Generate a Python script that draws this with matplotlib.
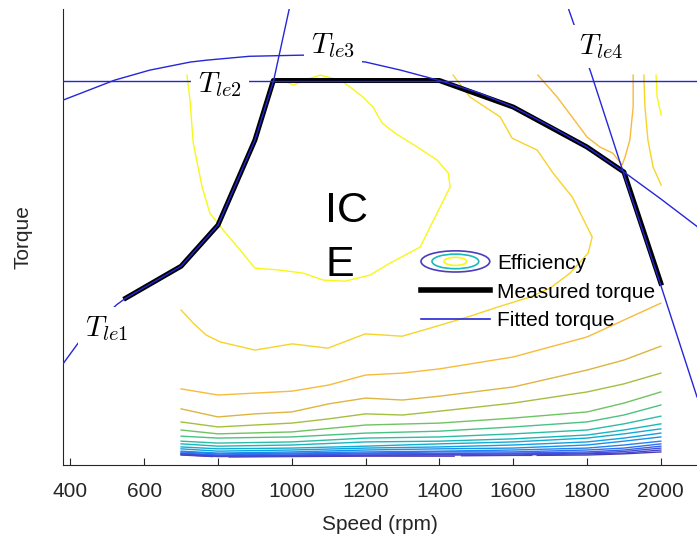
import numpy as np
import matplotlib
matplotlib.use("Agg")
import matplotlib.pyplot as plt
from matplotlib.colors import LinearSegmentedColormap, Normalize
from matplotlib.legend_handler import HandlerBase
from matplotlib.patches import Ellipse, Patch
from matplotlib.lines import Line2D

plt.rcParams['font.family'] = ['Liberation Sans', 'DejaVu Sans']
plt.rcParams['mathtext.fontset'] = 'cm'

# measured full-load torque curve (rpm, Nm)
meas_rpm = [550, 700, 800, 900, 950, 1400, 1600, 1800, 1900, 2000]
meas_T = [434, 517, 624, 845, 1000, 1000, 931, 827, 762, 473]

# fitted torque segments
fit1_rpm = [380, 421, 470, 527, 550, 700, 800]
fit1_T = [263, 317, 369, 418, 434, 517, 624]
fit2_rpm = [800, 900, 951, 993, 1000]
fit2_T = [624, 845, 1001, 1186, 1220]
fitmax_rpm = [380, 2100]
fitmax_T = [1000, 1000]
fit3_rpm = [380, 520, 615, 725, 770, 885, 1030, 1200, 1295, 1400, 1510, 1600, 1700, 1800, 1900, 2000, 2100]
fit3_T = [949, 1001, 1027, 1048, 1053, 1063, 1066, 1048, 1027, 1000, 967, 931, 881, 827, 762, 692, 619]
fit4_rpm = [1742, 1751, 1811, 1898, 1998, 2098]
fit4_T = [1212, 1183, 1019, 762, 473, 177]

# labels of the fitted segments (rpm, Nm)
lbl_text = [r'$T_{le1}$', r'$T_{le2}$', r'$T_{le3}$', r'$T_{le4}$']
lbl_rpm = [498, 806, 1111, 1837]
lbl_T = [354, 989, 1091, 1089]

# efficiency contour lines
nan = np.nan
eff_inner = 0.44
inner_rpm = [716, 724, 733, 757, 778, 814, 860, 900, 968, 1031, 1085, 1144, 1212, 1266, 1348, 1380,
             1402, 1429, 1424, 1394, 1340, 1280, 1245, 1220, 1193, 1158, 1131, 1077, 1050, 1004, 976]
inner_T = [1014, 949, 837, 723, 655, 611, 559, 512, 507, 499, 481, 478, 494, 525, 567, 629,
           671, 723, 759, 793, 827, 863, 889, 931, 957, 983, 1001, 1014, 1006, 988, 1001]

eff_a = 0.42
a_rpm = [700, 733, 768, 806, 900, 1001, 1098, 1199, 1299, 1375, 1483, 1565, 1646, 1700, 1754, 1803,
         1814, 1760, 1708, 1665, 1597, 1565, 1483, 1437]
a_T = [403, 369, 338, 320, 299, 315, 304, 341, 335, 356, 387, 413, 437, 460, 499, 551,
       593, 697, 759, 819, 850, 905, 957, 1014]

eff_v = 0.40
v_rpm = [1667, 1719, 1762, 1800, 1835, 1870, 1895, 1903, 1916, 1925, 1925]
v_T = [1014, 957, 902, 853, 827, 811, 780, 801, 845, 931, 1014]
eff_o3 = 0.42
o3_rpm = [1954, 1957, 1965, 1979, 2001]
o3_T = [1014, 931, 845, 775, 728]
eff_o4 = 0.44
o4_rpm = [1987, 1990, 2001]
o4_T = [1014, 957, 910]

rpm_12 = [700, 800, 900, 1000, 1100, 1200, 1300, 1400, 1600, 1800, 1900, 2000]
b_T = [198, 182, 187, 192, 208, 234, 239, 250, 281, 333, 377, 421]
c_T = [146, 125, 133, 138, 159, 174, 169, 179, 203, 247, 273, 309]
d_T = [112, 99, 104, 109, 120, 133, 130, 140, 161, 190, 211, 239]

rpm_9 = [700, 800, 1000, 1200, 1400, 1600, 1800, 1900, 2000]
e_T = [91, 81, 86, 104, 109, 122, 138, 161, 190]
f_T = [75, 70, 73, 83, 88, 99, 112, 130, 156]
g_T = [62, 57, 60, 70, 73, 81, 91, 107, 127]
h_T = [55, 49, 52, 60, 62, 68, 78, 91, 107]
i_T = [47, 42, 44, 49, 55, 60, 70, 81, 94]
j_T = [42, 36, 39, 44, 47, 52, 60, 70, 83]
k_T = [36, 31, 34, 39, 42, 44, 52, 62, 73]
l_T = [34, 29, 31, 34, 36, 39, 44, 52, 62]
m_T = [31, 26, 29, 31, 34, 34, 39, 44, 55]
n_T = [30, 25, 26, 29, 30, 31, 34, 39, 49]
o_T = [29, 23, 25, 26, 27, 29, 31, 35, 44]
p_T = [27, 22, 23, 25, 26, 26, 29, 31, 39]
q_rpm = [700, 785, nan, 830, 1000, 1200, 1400, 1440, nan, 1460, 1600, 1650, nan, 1665, 1800, 1900, 2000]
q_T = [26, 22, nan, 21, 22, 23, 23, 23, nan, 24, 25, 25, nan, 25, 26, 29, 34]

low_eff = [0.36, 0.38, 0.40]  # d, c, b
band_eff = [0.34, 0.32, 0.30, 0.28, 0.26, 0.24, 0.22, 0.20, 0.18, 0.16, 0.14, 0.12]  # e..p
eff_q = 0.10

contours = [(inner_rpm, inner_T, eff_inner), (a_rpm, a_T, eff_a), (v_rpm, v_T, eff_v),
            (o3_rpm, o3_T, eff_o3), (o4_rpm, o4_T, eff_o4), (q_rpm, q_T, eff_q)]
for T, e in zip([d_T, c_T, b_T], low_eff):
    contours.append((rpm_12, T, e))
for T, e in zip([e_T, f_T, g_T, h_T, i_T, j_T, k_T, l_T, m_T, n_T, o_T, p_T], band_eff):
    contours.append((rpm_9, T, e))

cmap = LinearSegmentedColormap.from_list('parula_like', [
    (0.00, (0.30, 0.22, 0.72)),
    (0.20, (0.22, 0.40, 0.95)),
    (0.40, (0.05, 0.62, 0.90)),
    (0.55, (0.10, 0.73, 0.72)),
    (0.68, (0.35, 0.77, 0.45)),
    (0.76, (0.62, 0.75, 0.25)),
    (0.84, (0.93, 0.70, 0.25)),
    (0.90, (0.99, 0.74, 0.22)),
    (0.95, (0.96, 0.85, 0.15)),
    (1.00, (0.97, 0.97, 0.10))])
norm = Normalize(0.10, 0.44)

fit_color = '#2626d9'
dark = '#262626'

fig = plt.figure(figsize=(6.97, 5.41), dpi=100)
ax = fig.add_axes([63 / 697, 76 / 541, 634 / 697, 456 / 541])

for rpm, T, e in contours:
    ax.plot(rpm, T, color=cmap(norm(e)), lw=1, zorder=1)

ax.plot(meas_rpm, meas_T, color='black', lw=3.6, solid_joinstyle='round', zorder=2)
for rpm, T in [(fit1_rpm, fit1_T), (fit2_rpm, fit2_T), (fitmax_rpm, fitmax_T),
               (fit3_rpm, fit3_T), (fit4_rpm, fit4_T)]:
    ax.plot(rpm, T, color=fit_color, lw=1.0, zorder=3)

for s, x, y in zip(lbl_text, lbl_rpm, lbl_T):
    ax.text(x, y, s, fontsize=21, ha='center', va='center', zorder=4,
            bbox=dict(fc='white', ec='none', pad=5))

ax.text(1090, 712, 'IC\nE', fontsize=31, ha='left', va='top', linespacing=1.45, zorder=4)

ax.set_xlim(380, 2098)
ax.set_ylim(0, 1186)
ax.set_xticks(range(400, 2001, 200))
ax.set_yticks([])
ax.tick_params(axis='x', direction='in', length=5, width=0.8, labelsize=15, pad=12,
               colors=dark)
for side in ['top', 'right']:
    ax.spines[side].set_visible(False)
for side in ['left', 'bottom']:
    ax.spines[side].set_color(dark)
    ax.spines[side].set_linewidth(0.8)
ax.set_xlabel('Speed (rpm)', fontsize=15, color=dark, labelpad=10)
ax.set_ylabel('Torque', fontsize=15, color=dark, labelpad=22)


class EllipseHandler(HandlerBase):
    def create_artists(self, legend, orig_handle, xdescent, ydescent, width, height,
                       fontsize, trans):
        cx, cy = width / 2 - xdescent, height / 2 - ydescent
        arts = []
        for fw, fh, c in [(1.0, 1.45, cmap(0.02)), (0.68, 1.0, cmap(0.55)),
                          (0.33, 0.55, cmap(1.0))]:
            arts.append(Ellipse((cx, cy), width * fw, height * fh, fill=False,
                                edgecolor=c, lw=1.2, transform=trans))
        return arts


eff_proxy = Patch()
meas_proxy = Line2D([], [], color='black', lw=4)
fit_proxy = Line2D([], [], color=fit_color, lw=1.2)
ax.legend(handles=[eff_proxy, meas_proxy, fit_proxy],
          labels=['Efficiency', 'Measured torque', 'Fitted torque'],
          handler_map={eff_proxy: EllipseHandler()},
          loc='center left', bbox_to_anchor=(421 / 697, 1 - 292 / 541),
          bbox_transform=fig.transFigure, frameon=False, fontsize=15,
          handlelength=3.3, handletextpad=0.35, borderpad=0, borderaxespad=0,
          labelspacing=0.47)

fig.savefig('out.png', dpi=100)
